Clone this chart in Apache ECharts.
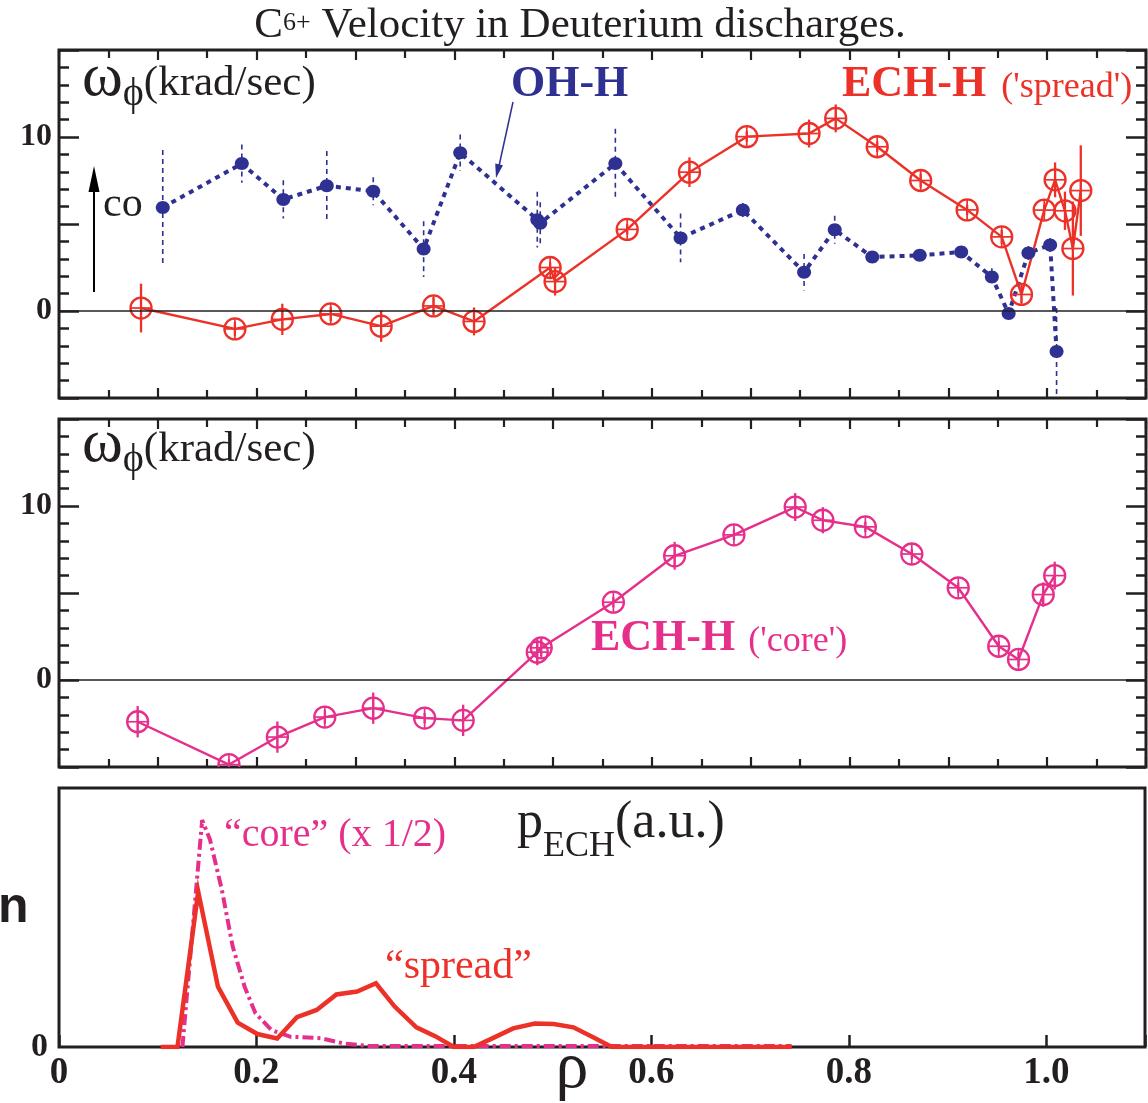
<!DOCTYPE html>
<html>
<head>
<meta charset="utf-8">
<script src="https://cdn.jsdelivr.net/npm/echarts@6/dist/echarts.min.js"></script>
<style>
  html, body { margin: 0; padding: 0; background: #fff; }
  #chart { width: 1148px; height: 1103px; }
</style>
</head>
<body>
<div id="chart"></div>
<script>
// Toroidal rotation of C6+ (krad/s) vs normalised radius, with error half-widths.
const ohRho   = [0.105, 0.185, 0.227, 0.271, 0.318, 0.369, 0.406, 0.484, 0.487, 0.563, 0.629, 0.692, 0.754, 0.785, 0.823, 0.871, 0.913, 0.944, 0.961, 0.981, 1.003, 1.0095];
const ohOmega = [5.95, 8.47, 6.41, 7.2, 6.88, 3.56, 9.09, 5.25, 5.05, 8.47, 4.2, 5.8, 2.23, 4.67, 3.1, 3.2, 3.39, 1.96, -0.15, 3.33, 3.8, -2.33];
const ohErr   = [3.3, 1.1, 1.1, 2.0, 0.8, 1.6, 1.05, 1.6, 1.2, 2.0, 1.4, 0.4, 1.05, 0.8, 0.3, 0.3, 0.3, 0.5, 0.3, 0.4, 0.4, 2.5];

const spreadRho   = [0.083, 0.178, 0.226, 0.275, 0.326, 0.379, 0.420, 0.497, 0.502, 0.575, 0.638, 0.696, 0.759, 0.786, 0.828, 0.872, 0.919, 0.954, 0.974, 0.997, 1.008, 1.018, 1.026, 1.034];
const spreadOmega = [0.17, -1.03, -0.48, -0.17, -0.87, 0.29, -0.6, 2.5, 1.69, 4.69, 7.98, 10.02, 10.2, 11.07, 9.44, 7.5, 5.81, 4.26, 0.95, 5.8, 7.54, 5.76, 3.59, 6.92];
const spreadErr   = [1.4, 0.4, 0.9, 0.4, 0.9, 0.5, 0.8, 0.3, 0.8, 0.3, 0.85, 0.3, 0.8, 0.8, 0.3, 0.4, 0.3, 0.4, 0.5, 0.3, 1.0, 1.1, 2.7, 2.6];

const coreRho   = [0.0796, 0.172, 0.221, 0.269, 0.318, 0.370, 0.409, 0.484, 0.488, 0.561, 0.623, 0.683, 0.745, 0.773, 0.816, 0.863, 0.910, 0.951, 0.971, 0.996, 1.0076];
const coreOmega = [-2.4, -4.86, -3.28, -2.13, -1.62, -2.19, -2.32, 1.6, 1.85, 4.47, 7.14, 8.34, 9.94, 9.18, 8.8, 7.24, 5.3, 1.94, 1.18, 4.91, 6.0];
const coreErr   = [0.9, 0.3, 0.9, 0.4, 0.9, 0.3, 0.9, 0.75, 0.5, 0.3, 0.8, 0.3, 0.8, 0.75, 0.3, 0.3, 0.3, 0.3, 0.4, 0.7, 0.8];

// ECH power deposition profiles (a.u.); the core profile is already halved.
const pSpreadRho = [0.103, 0.120, 0.141, 0.161, 0.181, 0.201, 0.221, 0.241, 0.261, 0.281, 0.302, 0.321, 0.340, 0.362, 0.381, 0.400, 0.420, 0.441, 0.460, 0.482, 0.501, 0.521, 0.540, 0.560, 0.742];
const pSpread    = [0, 0, 0.60, 0.233, 0.094, 0.050, 0.033, 0.115, 0.143, 0.203, 0.214, 0.246, 0.156, 0.076, 0.042, 0, 0, 0.037, 0.072, 0.091, 0.089, 0.076, 0.040, 0, 0];
const pCoreRho   = [0.125, 0.145, 0.153, 0.165, 0.176, 0.188, 0.199, 0.215, 0.234, 0.265, 0.288, 0.312, 0.742];
const pCore      = [0, 0.876, 0.80, 0.606, 0.387, 0.233, 0.130, 0.066, 0.040, 0.034, 0.014, 0.004, 0.004];

// Tick labels
const omegaTickLabels = [0, 10];
const rhoTickLabels = ['0', '0.2', '0.4', '0.6', '0.8', '1.0'];
const powerTickLabels = [0];

const INK = '#231f20';
const BLUE = '#2e3192';
const RED = '#ec3129';
const PINK = '#e62e8b';
const SERIF = '"Liberation Serif", "Times New Roman", serif';

const zip3 = (a, b, c) => a.map((v, i) => [v, b[i], c[i]]);
const zip2 = (a, b) => a.map((v, i) => [v, b[i]]);

// Marker with vertical error bar: filled dot or circled cross.
function errMarker(opt) {
  return function (params, api) {
    const x = api.value(0), y = api.value(1), e = api.value(2);
    const c = api.coord([x, y]);
    const hi = api.coord([x, y + e]);
    const lo = api.coord([x, y - e]);
    const kids = [];
    if (e > 0) {
      kids.push({ type: 'line', shape: { x1: c[0], y1: hi[1], x2: c[0], y2: lo[1] },
        style: { stroke: opt.color, lineWidth: opt.barWidth, lineDash: opt.barDash || null } });
    }
    const r = opt.r;
    if (opt.filled) {
      kids.push({ type: 'ellipse', shape: { cx: c[0], cy: c[1], rx: r + 0.5, ry: r }, style: { fill: opt.color } });
    } else {
      kids.push({ type: 'circle', shape: { cx: c[0], cy: c[1], r: r }, style: { fill: 'none', stroke: opt.color, lineWidth: 2.3 } });
      kids.push({ type: 'line', shape: { x1: c[0] - r, y1: c[1], x2: c[0] + r, y2: c[1] }, style: { stroke: opt.color, lineWidth: 1.7 } });
      kids.push({ type: 'line', shape: { x1: c[0], y1: c[1] - r, x2: c[0], y2: c[1] + r }, style: { stroke: opt.color, lineWidth: 1.7 } });
    }
    return { type: 'group', children: kids };
  };
}

const grids = [
  { left: 59, top: 50, width: 1087, height: 348 },
  { left: 59, top: 419, width: 1087, height: 348 },
  { left: 59, top: 788, width: 1087, height: 259 }
].map(g => Object.assign(g, { show: true, borderColor: INK, borderWidth: 3, backgroundColor: 'transparent' }));

function rhoAxis(gridIndex, position) {
  return {
    type: 'value', gridIndex, position, min: 0, max: 1.1, interval: 0.1,
    axisLine: { show: false, onZero: false },
    axisTick: { show: true, inside: true, length: 10, lineStyle: { color: INK, width: 2.2 } },
    minorTick: { show: true, splitNumber: 2, length: 8, lineStyle: { color: INK, width: 2.2 } },
    axisLabel: { show: false }, splitLine: { show: false }, minorSplitLine: { show: false }
  };
}

function omegaAxis(gridIndex, position, labels) {
  return {
    type: 'value', gridIndex, position, min: -5, max: 15, interval: 5,
    axisLine: { show: false, onZero: false },
    axisTick: { show: true, inside: true, length: 20, lineStyle: { color: INK, width: 2.5 } },
    minorTick: { show: true, splitNumber: 5, length: 10, lineStyle: { color: INK, width: 2.5 } },
    axisLabel: {
      show: labels, margin: 7, color: INK, fontFamily: SERIF, fontWeight: 'bold', fontSize: 32,
      formatter: v => (omegaTickLabels.indexOf(v) >= 0 ? String(v) : '')
    },
    splitLine: { show: false }, minorSplitLine: { show: false }
  };
}

const xAxes = [
  rhoAxis(0, 'bottom'), rhoAxis(0, 'top'),
  rhoAxis(1, 'bottom'), rhoAxis(1, 'top'),
  {
    type: 'value', gridIndex: 2, position: 'bottom', min: 0, max: 1.1, interval: 0.2,
    axisLine: { show: false, onZero: false },
    axisTick: { show: true, inside: true, length: 12, lineStyle: { color: INK, width: 2.5 } },
    axisLabel: {
      show: true, margin: 8, color: INK, fontFamily: SERIF, fontWeight: 'bold', fontSize: 37,
      formatter: v => { const i = Math.round(v / 0.2); return (Math.abs(v - i * 0.2) < 1e-6 && i < rhoTickLabels.length) ? rhoTickLabels[i] : ''; }
    },
    splitLine: { show: false }
  }
];

const yAxes = [
  omegaAxis(0, 'left', true), omegaAxis(0, 'right', false),
  omegaAxis(1, 'left', true), omegaAxis(1, 'right', false),
  {
    type: 'value', gridIndex: 2, position: 'left', min: 0, max: 1, interval: 1,
    axisLine: { show: false, onZero: false }, axisTick: { show: false },
    axisLabel: { show: true, margin: 11, color: INK, fontFamily: SERIF, fontWeight: 'bold', fontSize: 34,
      formatter: v => (powerTickLabels.indexOf(v) >= 0 ? String(v) : '') },
    splitLine: { show: false }
  }
];

const zeroLine = {
  silent: true, symbol: 'none', label: { show: false }, animation: false,
  lineStyle: { color: INK, width: 1.5, type: 'solid' },
  data: [{ yAxis: 0 }]
};

const series = [
  // top panel
  { type: 'line', xAxisIndex: 0, yAxisIndex: 0, data: zip2(ohRho, ohOmega), showSymbol: false, symbol: 'none',
    lineStyle: { color: BLUE, width: 4, type: [5, 5] }, markLine: zeroLine, z: 2 },
  { type: 'line', xAxisIndex: 0, yAxisIndex: 0, data: zip2(spreadRho, spreadOmega), showSymbol: false, symbol: 'none',
    lineStyle: { color: RED, width: 2.4 }, z: 2 },
  { type: 'custom', xAxisIndex: 0, yAxisIndex: 0, data: zip3(ohRho, ohOmega, ohErr), clip: true, z: 3,
    renderItem: errMarker({ color: BLUE, r: 6.5, filled: true, barWidth: 1.6, barDash: [5, 4] }) },
  { type: 'custom', xAxisIndex: 0, yAxisIndex: 0, data: zip3(spreadRho, spreadOmega, spreadErr), clip: true, z: 4,
    renderItem: errMarker({ color: RED, r: 10.5, filled: false, barWidth: 2.3 }) },
  // middle panel
  { type: 'line', xAxisIndex: 2, yAxisIndex: 2, data: zip2(coreRho, coreOmega), showSymbol: false, symbol: 'none',
    lineStyle: { color: PINK, width: 2.4 }, markLine: zeroLine, z: 2 },
  { type: 'custom', xAxisIndex: 2, yAxisIndex: 2, data: zip3(coreRho, coreOmega, coreErr), clip: true, z: 3,
    renderItem: errMarker({ color: PINK, r: 10.5, filled: false, barWidth: 2.3 }) },
  // bottom panel
  { type: 'line', xAxisIndex: 4, yAxisIndex: 4, data: zip2(pCoreRho, pCore), showSymbol: false, symbol: 'none',
    lineStyle: { color: PINK, width: 4, type: [11, 4, 3, 4] }, z: 2 },
  { type: 'line', xAxisIndex: 4, yAxisIndex: 4, data: zip2(pSpreadRho, pSpread), showSymbol: false, symbol: 'none',
    lineStyle: { color: RED, width: 4.5, join: 'miter' }, z: 3 }
];

// Rich text: every token is top-aligned in its line and shifted down by its top padding,
// which gives sub- and superscripts without relying on line heights.
function txt(x, y, text, rich, extra) {
  return Object.assign({ type: 'text', x, y, silent: true, z: 10,
    style: Object.assign({ text, rich, fill: INK, fontFamily: SERIF, verticalAlign: 'top', align: 'left' }, extra || {}) });
}
const tok = (size, pad, more) => Object.assign({ fontSize: size, verticalAlign: 'top', fontFamily: SERIF,
  padding: [pad, 0, 0, 0] }, more || {});

const omegaRich = { w: tok(62, 0), p: tok(40, 26.4), t: tok(43, 13.9) };

const graphics = [
  // heading
  txt(580, 4, '{b|C}{s|6+}{b| Velocity in Deuterium discharges.}',
    { b: tok(43, 0), s: tok(26, 6.2) }, { align: 'center' }),
  // axis quantity labels
  txt(82, 48, '{w|ω}{p|ϕ}{t|(krad/sec)}', omegaRich),
  txt(82, 414, '{w|ω}{p|ϕ}{t|(krad/sec)}', omegaRich),
  // top panel annotations
  txt(511, 63, '{a|OH-H}', { a: tok(44, 0, { fontWeight: 'bold', fill: BLUE }) }),
  txt(842, 63, '{a|ECH-H}{b|(\'spread\')}', { a: tok(44, 0, { fontWeight: 'bold', fill: RED }),
    b: Object.assign(tok(36, 6.7, { fill: RED }), { padding: [6.7, 0, 0, 15] }) }),
  txt(103, 184, '{a|co}', { a: tok(42, 0) }),
  { type: 'line', silent: true, z: 10, shape: { x1: 94, y1: 292, x2: 94, y2: 188 }, style: { stroke: '#000', lineWidth: 2 } },
  { type: 'polygon', silent: true, z: 10, shape: { points: [[94, 166], [88.5, 192], [99.5, 192]] }, style: { fill: '#000' } },
  { type: 'line', silent: true, z: 10, shape: { x1: 513, y1: 102, x2: 499, y2: 166 }, style: { stroke: BLUE, lineWidth: 1.5 } },
  { type: 'polygon', silent: true, z: 10, shape: { points: [[496, 178], [503, 165.2], [495.2, 163.5]] }, style: { fill: BLUE } },
  // middle panel annotation
  txt(591, 617, '{a|ECH-H}{b|(\'core\')}', { a: tok(44, 0, { fontWeight: 'bold', fill: PINK }),
    b: Object.assign(tok(36, 6.7, { fill: PINK }), { padding: [6.7, 0, 0, 13] }) }),
  // bottom panel annotations
  txt(517, 797, '{m|p}{s|ECH}{m|(a.u.)}', { m: tok(52, 0), s: tok(36, 31.4) }),
  txt(224, 815, '{a|“core” (x 1/2)}', { a: tok(40, 0, { fill: PINK }) }),
  txt(385, 946, '{a|“spread”}', { a: tok(42, 0, { fill: RED }) }),
  txt(572, 1070, 'ρ', null, { align: 'center', verticalAlign: 'middle', fontSize: 66 }),
  txt(-2, 908, 'n', null, { verticalAlign: 'middle', fontSize: 50, fontWeight: 'bold', fontFamily: '"Liberation Sans", Arial, sans-serif' })
];

const chart = echarts.init(document.getElementById('chart'), null, { renderer: 'canvas' });
chart.setOption({
  animation: false,
  backgroundColor: '#ffffff',
  grid: grids,
  xAxis: xAxes,
  yAxis: yAxes,
  series,
  graphic: graphics
});
</script>
</body>
</html>
